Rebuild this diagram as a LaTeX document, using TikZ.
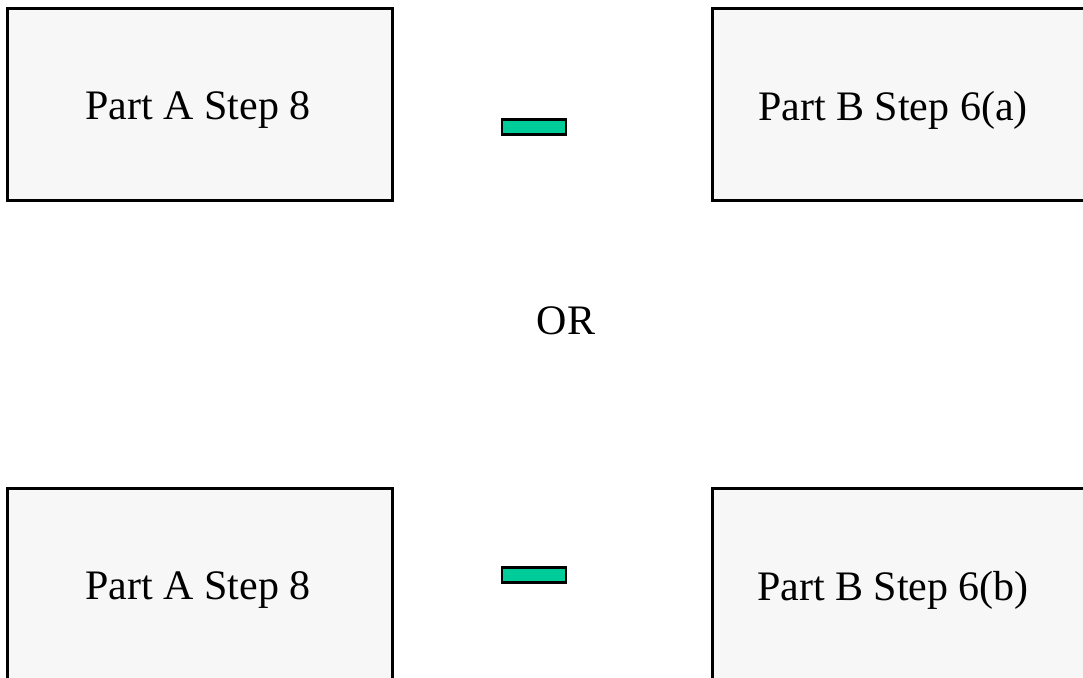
\documentclass[tikz,border=0pt]{standalone}
\usepackage{fontspec}
\setmainfont{Liberation Serif}
\definecolor{panelgray}{HTML}{F7F7F7}
\definecolor{minusgreen}{HTML}{00CC99}
\tikzset{
  panel/.style={draw=black,fill=panelgray,line width=2.6pt,rectangle,anchor=north west,minimum width=385pt,minimum height=192pt,inner sep=0pt},
  steptext/.style={font=\fontsize{42}{50}\selectfont,inner sep=0pt},
  minusbar/.style={draw=black,fill=minusgreen,line width=2.2pt,rectangle,minimum width=64pt,minimum height=15pt,inner sep=0pt}
}
\begin{document}
\begin{tikzpicture}[x=1pt,y=-1pt]
            \useasboundingbox (0,0) rectangle (1083,677);
            \clip (0,0) rectangle (1083,677);
            % first pair
            \node[panel] (tl) at (6,7) {};
            \node[panel] (tr) at (711,7) {};
            \node[steptext] (tltext) at (198,110) {Part A Step 8};
            \node[steptext] (trtext) at (893,110) {Part B Step 6(a)};
            \node[minusbar] (topminus) at (534,127) {};
            \node[steptext] (or) at (566,321) {OR};
            % second pair
            \node[panel] (bl) at (6,487) {};
            \node[panel] (br) at (711,487) {};
            \node[steptext] (bltext) at (198,590) {Part A Step 8};
            \node[steptext] (brtext) at (893,590) {Part B Step 6(b)};
            \node[minusbar] (botminus) at (534,575) {};
        \end{tikzpicture}
\end{document}
